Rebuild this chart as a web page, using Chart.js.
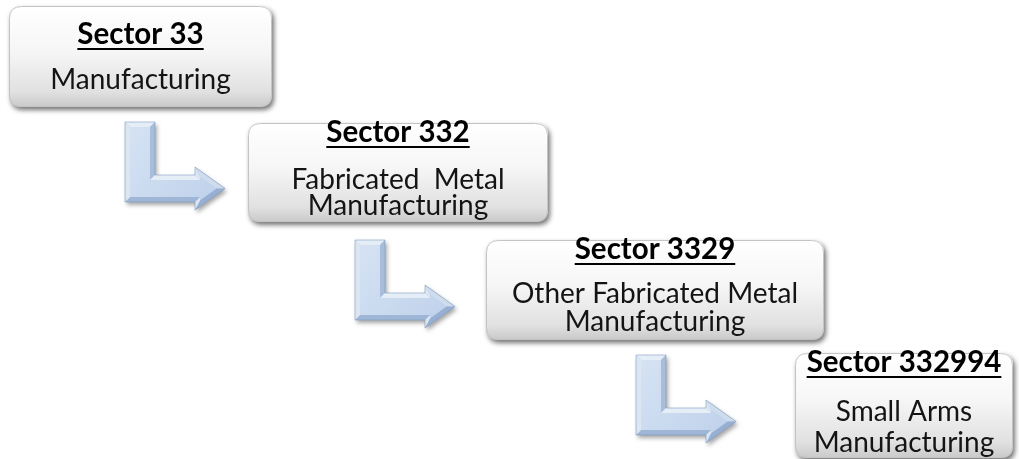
<!DOCTYPE html>
<html>
<head>
<meta charset="utf-8">
<script src="https://cdn.jsdelivr.net/npm/chart.js"></script>
<style>
  html, body { margin: 0; padding: 0; background: #fff; overflow: hidden; }
</style>
</head>
<body>
<canvas id="chart" width="1019" height="459"></canvas>
<script>
  // NAICS drill-down, one box per level
  const sectorCodes = ['Sector 33', 'Sector 332', 'Sector 3329', 'Sector 332994'];
  const sectorNames = [
    ['Manufacturing'],
    ['Fabricated  Metal', 'Manufacturing'],
    ['Other Fabricated Metal', 'Manufacturing'],
    ['Small Arms', 'Manufacturing'],
  ];

  // box edges in chart units (x 0..1019 across, y 0..459 down)
  const boxLeft = [9, 248, 486, 795];
  const boxRight = [272, 548, 824, 1013];
  const boxTop = [6, 123, 240, 353];
  const boxBottom = [107, 222, 340, 458];
  const codeBaseline = [44, 142, 259, 372];
  const nameBaselines = [[89], [189, 215], [303, 331], [421, 452]];

  // elbow arrows between the levels (top-left corner of each)
  const arrowLeft = [125, 355, 636];
  const arrowTop = [122, 240, 355];

  // elbow arrow outline, relative to its corner, and the same outline inset for the bevel
  const ARROW_OUTER = [[0, 0], [30, 0], [30, 53], [70, 53], [70, 45], [100, 66.5], [70, 88], [70, 80], [0, 80]];
  const ARROW_INNER = [[5, 5], [25, 5], [25, 58], [75, 58], [75, 54.8], [91.4, 66.5], [75, 78.2], [75, 75], [5, 75]];

  const FONT_FAMILY = 'Lato, "Open Sans", sans-serif';

  function roundedRect(ctx, x0, y0, x1, y1, r) {
    ctx.beginPath();
    ctx.moveTo(x0 + r, y0);
    ctx.lineTo(x1 - r, y0);
    ctx.quadraticCurveTo(x1, y0, x1, y0 + r);
    ctx.lineTo(x1, y1 - r);
    ctx.quadraticCurveTo(x1, y1, x1 - r, y1);
    ctx.lineTo(x0 + r, y1);
    ctx.quadraticCurveTo(x0, y1, x0, y1 - r);
    ctx.lineTo(x0, y0 + r);
    ctx.quadraticCurveTo(x0, y0, x0 + r, y0);
    ctx.closePath();
  }

  function mix(a, b, t) {
    const c = a.map((v, i) => Math.round(v + (b[i] - v) * t));
    return `rgb(${c[0]}, ${c[1]}, ${c[2]})`;
  }

  function drawBox(ctx, xs, ys, index) {
    const x0 = xs.getPixelForValue(boxLeft[index]);
    const x1 = xs.getPixelForValue(boxRight[index]);
    const y0 = ys.getPixelForValue(boxTop[index]);
    const y1 = ys.getPixelForValue(boxBottom[index]);

    const fill = ctx.createLinearGradient(0, y0, 0, y1);
    fill.addColorStop(0, '#ffffff');
    fill.addColorStop(0.45, '#f6f6f6');
    fill.addColorStop(0.85, '#e1e1e1');
    fill.addColorStop(1, '#c9c9c9');

    ctx.save();
    ctx.shadowColor = 'rgba(0, 0, 0, 0.55)';
    ctx.shadowBlur = 5;
    ctx.shadowOffsetX = 2;
    ctx.shadowOffsetY = 3;
    roundedRect(ctx, x0, y0, x1, y1, 12);
    ctx.fillStyle = fill;
    ctx.fill();
    ctx.restore();

    roundedRect(ctx, x0 + 0.5, y0 + 0.5, x1 - 0.5, y1 - 0.5, 12);
    ctx.strokeStyle = '#c4c4c4';
    ctx.lineWidth = 1;
    ctx.stroke();

    const cx = (x0 + x1) / 2;
    ctx.textAlign = 'center';
    ctx.textBaseline = 'alphabetic';

    // bold, underlined code
    ctx.font = `bold 29.5px ${FONT_FAMILY}`;
    ctx.fillStyle = '#000000';
    const codeY = ys.getPixelForValue(codeBaseline[index]);
    ctx.fillText(sectorCodes[index], cx, codeY);
    const w = ctx.measureText(sectorCodes[index]).width;
    ctx.fillRect(cx - w / 2, codeY + 4, w, 2);

    ctx.font = `28px ${FONT_FAMILY}`;
    ctx.fillStyle = '#141414';
    sectorNames[index].forEach((line, li) => {
      ctx.fillText(line, cx, ys.getPixelForValue(nameBaselines[index][li]));
    });
  }

  function drawArrow(ctx, xs, ys, index) {
    const ox = xs.getPixelForValue(arrowLeft[index]);
    const oy = ys.getPixelForValue(arrowTop[index]);
    const outer = ARROW_OUTER.map(([px, py]) => [ox + px, oy + py]);
    const inner = ARROW_INNER.map(([px, py]) => [ox + px, oy + py]);

    const trace = (pts) => {
      ctx.beginPath();
      pts.forEach(([px, py], i) => (i === 0 ? ctx.moveTo(px, py) : ctx.lineTo(px, py)));
      ctx.closePath();
    };

    // base shape with drop shadow
    ctx.save();
    ctx.shadowColor = 'rgba(0, 0, 0, 0.35)';
    ctx.shadowBlur = 4;
    ctx.shadowOffsetX = 2;
    ctx.shadowOffsetY = 3;
    trace(outer);
    ctx.fillStyle = '#b9cde6';
    ctx.fill();
    ctx.restore();

    // bevel facets, lit from the top left
    const dark = [150, 175, 210];
    const light = [238, 244, 251];
    const lx = -0.6;
    const ly = -0.8;
    for (let i = 0; i < outer.length; i += 1) {
      const j = (i + 1) % outer.length;
      const dx = outer[j][0] - outer[i][0];
      const dy = outer[j][1] - outer[i][1];
      const len = Math.hypot(dx, dy) || 1;
      // outward normal for a clockwise outline on screen
      const nx = dy / len;
      const ny = -dx / len;
      const shade = (nx * lx + ny * ly + 1) / 2;
      ctx.beginPath();
      ctx.moveTo(outer[i][0], outer[i][1]);
      ctx.lineTo(outer[j][0], outer[j][1]);
      ctx.lineTo(inner[j][0], inner[j][1]);
      ctx.lineTo(inner[i][0], inner[i][1]);
      ctx.closePath();
      ctx.fillStyle = mix(dark, light, shade);
      ctx.fill();
    }

    const face = ctx.createLinearGradient(ox, oy, ox + 100, oy + 80);
    face.addColorStop(0, '#d6e3f4');
    face.addColorStop(1, '#bed1ea');
    trace(inner);
    ctx.fillStyle = face;
    ctx.fill();

    trace(outer);
    ctx.strokeStyle = 'rgba(120, 150, 190, 0.7)';
    ctx.lineWidth = 0.8;
    ctx.stroke();
  }

  const flowPlugin = {
    id: 'flowPlugin',
    afterDatasetsDraw(chart) {
      const { ctx, scales } = chart;
      ctx.save();
      arrowLeft.forEach((_, i) => drawArrow(ctx, scales.x, scales.y, i));
      sectorCodes.forEach((_, i) => drawBox(ctx, scales.x, scales.y, i));
      ctx.restore();
    },
  };

  function render() {
    new Chart(document.getElementById('chart').getContext('2d'), {
      type: 'scatter',
      data: {
        datasets: [
          {
            label: 'levels',
            data: sectorCodes.map((_, i) => ({
              x: (boxLeft[i] + boxRight[i]) / 2,
              y: (boxTop[i] + boxBottom[i]) / 2,
            })),
            pointRadius: 0,
          },
        ],
      },
      options: {
        responsive: false,
        animation: false,
        layout: { padding: 0 },
        plugins: { legend: { display: false }, tooltip: { enabled: false } },
        scales: {
          x: { type: 'linear', min: 0, max: 1019, display: false },
          y: { type: 'linear', min: 0, max: 459, reverse: true, display: false },
        },
      },
      plugins: [flowPlugin],
    });
  }

  if (document.fonts && document.fonts.load) {
    Promise.all([
      document.fonts.load(`28px ${FONT_FAMILY}`),
      document.fonts.load(`bold 29.5px ${FONT_FAMILY}`),
    ]).then(render, render);
  } else {
    render();
  }
</script>
</body>
</html>
